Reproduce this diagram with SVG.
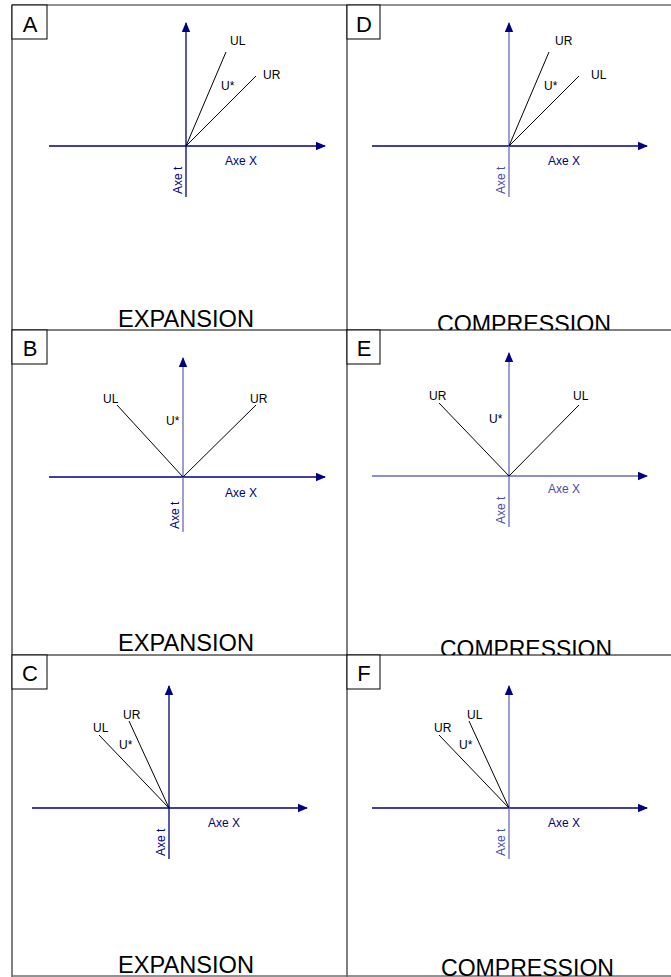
<svg xmlns="http://www.w3.org/2000/svg" width="671" height="977" viewBox="0 0 671 977">
<defs>
<marker id="ah" viewBox="0 0 10 10" refX="9" refY="5" markerWidth="10" markerHeight="10" markerUnits="userSpaceOnUse" orient="auto">
<path d="M0,0.8 L10,5 L0,9.2 Z" fill="#000080"/>
</marker>
<clipPath id="r1"><rect x="0" y="0" width="671" height="330"/></clipPath>
<clipPath id="r2"><rect x="0" y="330" width="671" height="325"/></clipPath>
<clipPath id="r3"><rect x="0" y="655" width="671" height="322"/></clipPath>
</defs>
<style>
.bg{fill:#ffffff}
.grid{stroke:#000000;stroke-width:1;fill:none}
.gridg{stroke:#6e6e6e;stroke-width:1.5;fill:none}
.box{fill:#ffffff;stroke:#000000;stroke-width:1}
.letter{font-family:"Liberation Sans",Arial,sans-serif;font-size:22px;fill:#000000;text-anchor:middle}
.title{font-family:"Liberation Sans",Arial,sans-serif;font-size:23px;fill:#000000}
.ax{stroke:#000080;stroke-width:1.3;fill:none}
.axl{stroke:#6a6ab8;stroke-width:1.3;fill:none}
.wave{stroke:#000000;stroke-width:1;fill:none}
.lbl{font-family:"Liberation Sans",Arial,sans-serif;font-size:12px;fill:#000000}
.axt{font-family:"Liberation Sans",Arial,sans-serif;font-size:12px;fill:#000080}
.axtl{font-family:"Liberation Sans",Arial,sans-serif;font-size:12px;fill:#4a4aa6}
</style>
<rect class="bg" x="0" y="0" width="671" height="977"/>

<g id="grid">
<line class="gridg" x1="12" y1="5" x2="671" y2="5"/>
<line class="grid" x1="12" y1="5" x2="12" y2="977"/>
<line class="grid" x1="347" y1="5" x2="347" y2="977"/>
<line class="grid" x1="12" y1="330" x2="671" y2="330"/>
<line class="grid" x1="12" y1="655" x2="671" y2="655"/>
<line class="gridg" x1="12" y1="976" x2="671" y2="976"/>
</g>

<g id="panel-A">
<rect class="box" x="12" y="5" width="35" height="34"/>
<text class="letter" x="30" y="32">A</text>
<g class="connectors">
<line class="ax" x1="49" y1="146" x2="325" y2="146" marker-end="url(#ah)"/>
<line class="ax" x1="186" y1="197" x2="186" y2="23" marker-end="url(#ah)"/>
<line class="wave" x1="186" y1="146" x2="226" y2="52"/>
<line class="wave" x1="186" y1="146" x2="256" y2="76"/>
</g>
<text class="lbl" x="230" y="45">UL</text>
<text class="lbl" x="263" y="79">UR</text>
<text class="lbl" x="221" y="90">U*</text>
<text class="axt" x="225" y="165">Axe X</text>
<text class="axt" transform="translate(182,194) rotate(-90)">Axe t</text>
<text class="title" x="118" y="327" textLength="136" lengthAdjust="spacingAndGlyphs" clip-path="url(#r1)">EXPANSION</text>
</g>

<g id="panel-D">
<rect class="box" x="347" y="5" width="33" height="34"/>
<text class="letter" x="364" y="32">D</text>
<g class="connectors">
<line class="ax" x1="372" y1="146" x2="647" y2="146" marker-end="url(#ah)"/>
<line class="axl" x1="509" y1="197" x2="509" y2="23" marker-end="url(#ah)"/>
<line class="wave" x1="509" y1="146" x2="549" y2="52"/>
<line class="wave" x1="509" y1="146" x2="579" y2="76"/>
</g>
<text class="lbl" x="555" y="45">UR</text>
<text class="lbl" x="591" y="79">UL</text>
<text class="lbl" x="544" y="90">U*</text>
<text class="axt" x="548" y="165">Axe X</text>
<text class="axtl" transform="translate(505,194) rotate(-90)">Axe t</text>
<text class="title" x="437" y="332" textLength="174" lengthAdjust="spacingAndGlyphs" clip-path="url(#r1)">COMPRESSION</text>
</g>

<g id="panel-B">
<rect class="box" x="12" y="330" width="35" height="34"/>
<text class="letter" x="30" y="356">B</text>
<g class="connectors">
<line class="ax" x1="49" y1="477" x2="325" y2="477" marker-end="url(#ah)"/>
<line class="axl" x1="183" y1="532" x2="183" y2="358" marker-end="url(#ah)"/>
<line class="wave" x1="183" y1="477" x2="117" y2="405"/>
<line class="wave" x1="183" y1="477" x2="256" y2="405"/>
</g>
<text class="lbl" x="103" y="403">UL</text>
<text class="lbl" x="250" y="403">UR</text>
<text class="lbl" x="166" y="425">U*</text>
<text class="axt" x="225" y="497">Axe X</text>
<text class="axt" transform="translate(179,529) rotate(-90)">Axe t</text>
<text class="title" x="118" y="651" textLength="136" lengthAdjust="spacingAndGlyphs" clip-path="url(#r2)">EXPANSION</text>
</g>

<g id="panel-E">
<rect class="box" x="347" y="330" width="33" height="34"/>
<text class="letter" x="364" y="356">E</text>
<g class="connectors">
<line class="axl" x1="372" y1="476" x2="647" y2="476" marker-end="url(#ah)"/>
<line class="axl" x1="509" y1="527" x2="509" y2="353" marker-end="url(#ah)"/>
<line class="wave" x1="509" y1="476" x2="439" y2="403"/>
<line class="wave" x1="509" y1="476" x2="579" y2="405"/>
</g>
<text class="lbl" x="429" y="400">UR</text>
<text class="lbl" x="573" y="400">UL</text>
<text class="lbl" x="489" y="423">U*</text>
<text class="axtl" x="548" y="493">Axe X</text>
<text class="axtl" transform="translate(505,524) rotate(-90)">Axe t</text>
<text class="title" x="440" y="657" textLength="172" lengthAdjust="spacingAndGlyphs" clip-path="url(#r2)">COMPRESSION</text>
</g>

<g id="panel-C">
<rect class="box" x="12" y="655" width="35" height="34"/>
<text class="letter" x="30" y="681">C</text>
<g class="connectors">
<line class="ax" x1="32" y1="808" x2="307" y2="808" marker-end="url(#ah)"/>
<line class="ax" x1="169" y1="859" x2="169" y2="686" marker-end="url(#ah)"/>
<line class="wave" x1="169" y1="808" x2="99" y2="735"/>
<line class="wave" x1="169" y1="808" x2="129" y2="721"/>
</g>
<text class="lbl" x="123" y="719">UR</text>
<text class="lbl" x="93" y="732">UL</text>
<text class="lbl" x="119" y="749">U*</text>
<text class="axt" x="208" y="827">Axe X</text>
<text class="axt" transform="translate(165,856) rotate(-90)">Axe t</text>
<text class="title" x="118" y="973" textLength="136" lengthAdjust="spacingAndGlyphs" clip-path="url(#r3)">EXPANSION</text>
</g>

<g id="panel-F">
<rect class="box" x="347" y="655" width="33" height="34"/>
<text class="letter" x="364" y="681">F</text>
<g class="connectors">
<line class="ax" x1="372" y1="808" x2="647" y2="808" marker-end="url(#ah)"/>
<line class="axl" x1="509" y1="859" x2="509" y2="686" marker-end="url(#ah)"/>
<line class="wave" x1="509" y1="808" x2="439" y2="735"/>
<line class="wave" x1="509" y1="808" x2="469" y2="721"/>
</g>
<text class="lbl" x="467" y="719">UL</text>
<text class="lbl" x="434" y="732">UR</text>
<text class="lbl" x="459" y="749">U*</text>
<text class="axt" x="548" y="827">Axe X</text>
<text class="axtl" transform="translate(505,856) rotate(-90)">Axe t</text>
<text class="title" x="441" y="976" textLength="173" lengthAdjust="spacingAndGlyphs" clip-path="url(#r3)">COMPRESSION</text>
</g>
</svg>
